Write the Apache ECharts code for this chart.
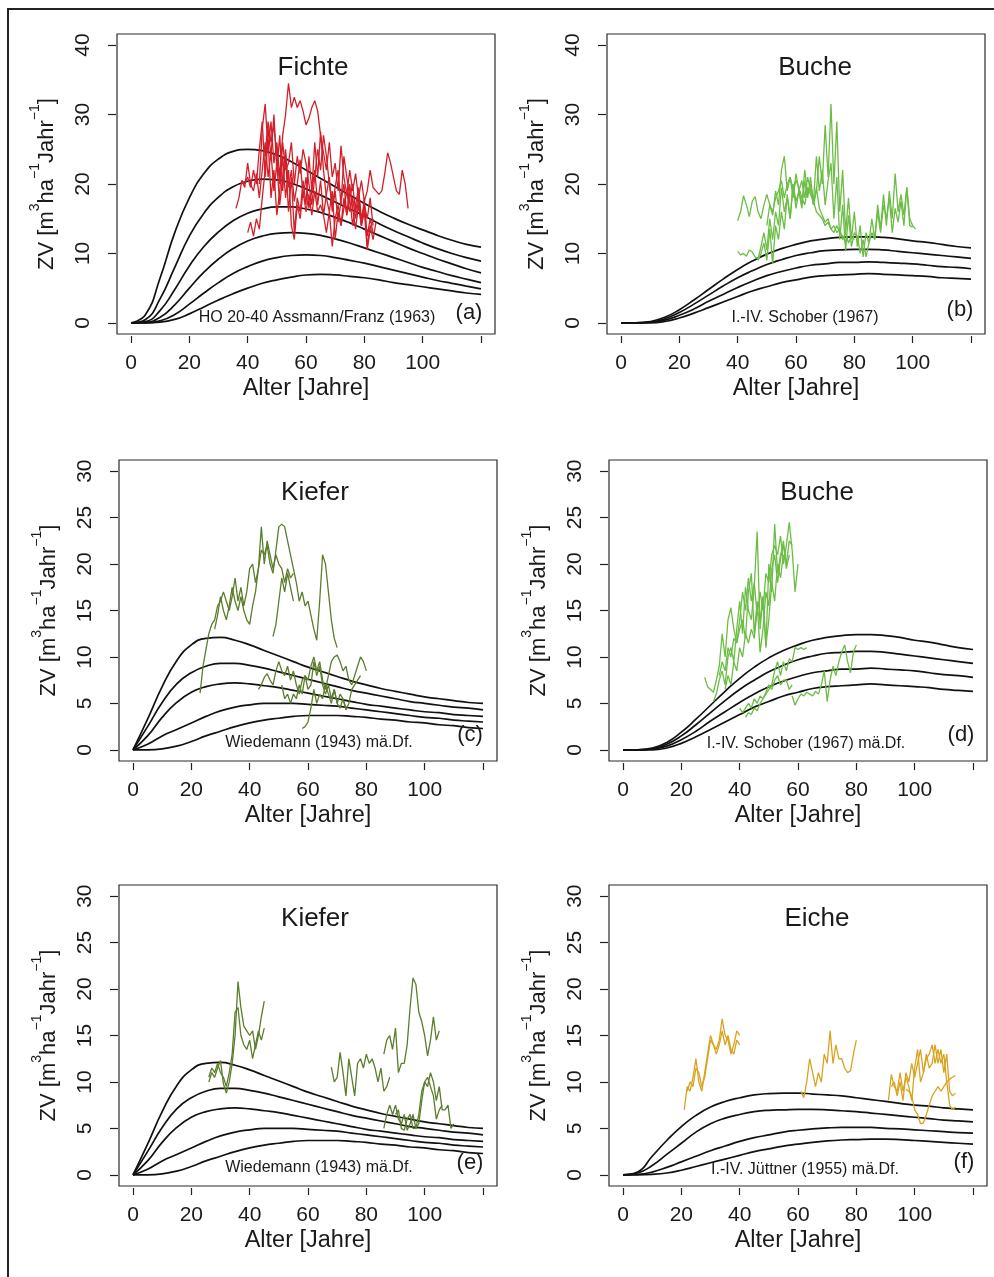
<!DOCTYPE html>
<html>
<head>
<meta charset="utf-8">
<script src="https://cdn.jsdelivr.net/npm/echarts@6/dist/echarts.min.js"></script>
<style>
html, body { margin: 0; padding: 0; background: #fff; }
#chart { width: 994px; height: 1277px; }
</style>
</head>
<body>
<div id="chart"></div>
<script>
// ages of the yield table curves
var ages = [0,5,10,15,20,25,30,35,40,45,50,55,60,65,70,75,80,85,90,95,100,105,110,115,120];
var xTicks = [0,20,40,60,80,100,120];
var xLabels = [0,20,40,60,80,100];
var yTicks40 = [0,10,20,30,40];
var yTicks30 = [0,5,10,15,20,25,30];

// Fichte, Assmann/Franz HO 20-40
var fiYt1 = [0,1.2,6.5,13,18,21.5,23.6,24.7,25,24.8,24.2,23.2,22,20.8,19.6,18.4,17.2,16.1,15.1,14.2,13.4,12.6,11.9,11.3,10.9];
var fiYt2 = [0,0.5,3.5,8,12.5,15.8,18.1,19.6,20.4,20.7,20.6,20.1,19.3,18.4,17.4,16.4,15.4,14.3,13.3,12.4,11.5,10.7,10,9.4,8.9];
var fiYt3 = [0,0.2,1.8,4.8,8.2,11,13.1,14.7,15.8,16.4,16.7,16.7,16.4,15.9,15.2,14.4,13.5,12.6,11.7,10.8,10,9.2,8.5,7.8,7.2];
var fiYt4 = [0,0.1,0.8,2.6,5,7.3,9.2,10.7,11.8,12.5,12.9,13,12.9,12.6,12.1,11.5,10.8,10.1,9.4,8.7,8,7.4,6.8,6.3,5.8];
var fiYt5 = [0,0,0.3,1.2,2.7,4.3,5.8,7.1,8.1,8.9,9.4,9.7,9.8,9.7,9.4,9,8.6,8.1,7.6,7.1,6.6,6.1,5.7,5.3,4.9];
var fiYt6 = [0,0,0.1,0.5,1.3,2.3,3.3,4.2,5,5.7,6.2,6.6,6.9,7,6.9,6.7,6.5,6.2,5.8,5.5,5.2,4.9,4.6,4.3,4.1];

// Buche, Schober I.-IV.
var buYt1 = [0,0,0.2,0.8,1.9,3.3,4.8,6.3,7.7,8.9,9.9,10.7,11.3,11.8,12.1,12.3,12.4,12.4,12.3,12.1,11.8,11.6,11.3,11,10.8];
var buYt2 = [0,0,0.1,0.6,1.5,2.7,4,5.3,6.5,7.5,8.4,9.1,9.7,10.1,10.4,10.5,10.6,10.6,10.5,10.3,10.1,9.9,9.7,9.5,9.3];
var buYt3 = [0,0,0.1,0.4,1.1,2,3.1,4.1,5.1,6,6.8,7.4,7.9,8.3,8.5,8.7,8.7,8.8,8.7,8.6,8.5,8.3,8.1,8,7.8];
var buYt4 = [0,0,0,0.2,0.7,1.4,2.2,3,3.8,4.6,5.2,5.8,6.2,6.6,6.8,6.9,7,7.1,7,6.9,6.8,6.7,6.5,6.4,6.3];

// Kiefer, Wiedemann
var kiYt1 = [0,3.3,6.8,9.6,11.3,12,12.1,11.8,11.3,10.7,10.1,9.5,8.9,8.4,7.9,7.4,7,6.6,6.3,6,5.7,5.5,5.3,5.1,5];
var kiYt2 = [0,2.5,5.1,7.1,8.3,9,9.3,9.3,9.1,8.8,8.4,8,7.6,7.2,6.8,6.4,6.1,5.8,5.5,5.2,5,4.8,4.6,4.5,4.3];
var kiYt3 = [0,1.5,3.5,5.1,6.2,6.8,7.1,7.2,7.1,6.9,6.7,6.4,6.1,5.8,5.5,5.2,4.9,4.7,4.5,4.3,4.1,4,3.8,3.7,3.6];
var kiYt4 = [0,0.6,1.5,2.2,2.9,3.6,4.2,4.6,4.85,5,5,5,4.9,4.8,4.7,4.5,4.3,4.1,3.9,3.7,3.5,3.4,3.2,3.1,3];
var kiYt5 = [0,0,0.1,0.4,0.9,1.5,2,2.5,2.9,3.2,3.4,3.6,3.7,3.7,3.7,3.6,3.5,3.3,3.2,3,2.9,2.7,2.6,2.4,2.3];

// Eiche, Juettner I.-IV.
var eiYt1 = [0,0.3,2,3.7,5.2,6.4,7.3,7.9,8.3,8.6,8.75,8.8,8.8,8.7,8.6,8.5,8.3,8.1,7.9,7.7,7.5,7.4,7.2,7.1,7];
var eiYt2 = [0,0.2,1,2.2,3.4,4.6,5.5,6.1,6.5,6.8,6.95,7,7.05,7.05,7,6.9,6.8,6.65,6.5,6.35,6.2,6.05,5.9,5.8,5.7];
var eiYt3 = [0,0.05,0.3,0.8,1.4,2,2.6,3.1,3.6,4,4.3,4.6,4.8,4.95,5.05,5.1,5.1,5.1,5,4.95,4.85,4.75,4.65,4.55,4.5];
var eiYt4 = [0,0,0.05,0.2,0.5,0.9,1.3,1.7,2.1,2.5,2.8,3.1,3.3,3.5,3.65,3.75,3.8,3.85,3.85,3.8,3.7,3.6,3.5,3.4,3.3];

// observed plots: first age and yearly values
var fiStarts = [36, 40, 44, 38, 46];
var fiObs1 = [16.5,18,20.5,19.5,23,20,19,21.5,18,22,26,21,24.5,19,23,17,21,25,19.5,22,17.5,20,23.5,18,21,16.5,19,22,17,20.5,15.5,18.5,21,16,19,14.5,17.5,20,15.5,18,14,17,19.5,15,17,12.5,15,13];
var fiObs2 = [13,14.5,12.5,15,13.5,18,22,28,24,30,22,27,19,24,16,21,13,18,16,20.5,17,24,19,26,21,27.5,22,18,16,19,12,16,14,18,15.5,20,16.5,13.5,17,14,18,11,14,12,14.5];
var fiObs3 = [20,28,31.5,25,29,23,26,21,27,30,34.5,31,32.5,31,32,30.5,28.5,29.5,31,32,30.5,27,24.5,22,26,21,23,19,25.5,21,18.5,22,19,21.5,18,20.5,17.5,19,22,19.5,19,18.5,19,21.5,24.5,23,21,19,18.5,22,20,16.5];
var fiObs4 = [20.5,20,21,19.5,22,20,25,29,21,26.5,18,22,15.5,19,24,18,22,14,12,17,15,19,16,18.5,15.5,19,16,17,15.5,13,16,11,15,17,14,16.5,19,16,18,15,17.5,14,16,10.5,13.5,15];
var fiObs5 = [24,29,26,28.5,24,20,26,22,23,26,20,24,21.5,25,23,20,17,21,25,22,27,24,20,17,19.5,22,17,24,21,18,20,16,18.5,14,17,15,18,14];

var buStarts = [40, 40, 47, 50];
var buObs1 = [14.7,16,18.3,17,15.3,17.5,18.2,16,15,17,18.5,17,16,18,19,20.5,18,20,21,19,20.5,19.5,18,17,19.5,18.5,17.5,16,15.5,15,14,14.5,13.5,13,14,13,12.5,11.5];
var buObs2 = [10.3,9.8,10,9.6,10.5,10.2,9.5,9.2,11,13,10.5,15,12,16,14,19.5,16,18,15,20,17.5,19,16.5,20.5,18,21,17,19,24,20,28.5,21,31.5,20,29,16,22,13,18,12,16,11,14,9.5,13,11.5,15,12,17,13.5,18.5,14,19,15,21.5,16,18.5,15.5,19.5,14,13.8];
var buObs3 = [9,10,11.5,9,13.5,8.5,14,12,16,13.5,18.5,15,20,16.5,19,17,22,18.5,20,17.5,24,19,22,17,20.5,23,15,21,12,17,10.5,15.5,11,13,12.5,10,12,9.5,11.5,13,12,16,13,17,15,18,13,16.5,14.5,17.5,14,19.5,15,14,13.5];
var buObs4 = [14,17,15.5,19,17,22,24,19,21,18,21.5,19,20.5,18,21,19,17,19.5,16.5,15.5,14.5,15,13.5,14,13,13.5,12,13,11.5,12.5,12];

var kiStarts = [23, 28, 48, 43, 51, 58];
var kiObs1 = [6.1,9,10.8,12.5,13.5,14,15.5,16,17,16,15,16.5,18.5,16,17.5,15.5,17,19.5,20,18,19.5,24,20,22.5,21,19.5,21,20,19.5,18,19.5,18.5,19];
var kiObs2 = [13,14.5,16.5,15,14,15.5,17.5,16,15,16.5,15,14,13.5,15.5,17,19.5,21.5,21,22,20,19,21.5,24,24.3,24,22.5,21,19.5,18,16,17,15.5,16,14.5,13,11.8,16,21,20,17,14,12,11];
var kiObs3 = [12.2,13.5,16,18.5,17,19,17.5,16];
var kiObs4 = [6.5,7,7.8,8.2,7.5,7,8.5,9.5,8.5,8,9,7.5,8.5,7,6,7.5,8,6.5,7,9.5,8,9,7,6,7,5.5,6.5,5,6,5.5,4.5];
var kiObs5 = [7,5.5,6,5,6,5.5,7,6,8,7.5,9,10,8.5,9.5,7.5,6.5,8,9.5,10,10.2,9.5,8.5,9,7.5,7,8,9,10,9.5,8.5];
var kiObs6 = [2.3,2.5,3,4.5,6.5,5,6,5.5,7,6,5,6.5,5,4.5,5.5,4.3,5,6.5,7,7.5,8];

var bdStarts = [28, 31, 33, 35, 42, 40, 58];
var bdObs1 = [7.8,6.8,6.5,6.2,7.5,9,12.5,10,14,15.3,13,11.5,14,17,15,18.5,16,18,14.5,17,15,19,18,21,22,21,23,20,22,24.5,21.5,17,20];
var bdObs2 = [5.2,6,7.5,8.5,7,10,11,9.5,13,16,12.5,17.5,15,14,17.5,23.5,13,16.5,11,20,17,24.3,19,21,22,20,22.5,22];
var bdObs3 = [8,9.5,8.5,11,10,12,11.5,13,14,12,17,19,12.5,16,10.5,13,17,15.5,19.5,21,18,20.5,22.5,19.5,21];
var bdObs4 = [6.5,8,7,9.5,8.5,11,10,12.5,11.5,13,12,15,14,16.5,11.2,14,18,16,20,18.5,21];
var bdObs5 = [3.5,4,3.8,4.5,4.2,5,5.5,6,6.5,7,8.5,9.5,8,9.5,8.5,9.8,9.5,11,10.8,11,10.8,11];
var bdObs6 = [4.5,4,4.5,5,4.5,5.5,5,5.8,5.5,6.2,7,6.5,7.5,8,7,7.5,7.5,6.5,7];
var bdObs7 = [5.8,4.8,5.5,6,5.8,6.2,6,5.8,6.3,6,7,8.5,5.2,7.5,9,8,9.5,10.5,11.3,9.5,8.3,10.5,11.3];

var keStarts = [26, 26, 68, 86, 86, 90];
var keObs1 = [10,11,10.5,11.5,12.3,9.8,8.8,10,12,15,20.8,18,16,15.5,15,15.5,13.5,15,17,18.7];
var keObs2 = [10.5,11.5,11,12,11,10.5,9.5,11,13,17.5,18,15,14,13.5,14.5,12.5,14,15.5,14.5,15.8];
var keObs3 = [11.6,10,10.5,13.2,11,8.5,12.5,10.5,8.5,12,12.5,11.5,13,12,12.5,11.5,10,11.5,9,9.5,10.5];
var keObs4 = [13,14.5,15,13.5,15.8,11,12,12,14,18,21.2,20.5,17.5,16.5,15,12.8,14.5,17,14.5,15.5];
var keObs5 = [5,6.5,7.5,6.5,7.5,6,5.5,6.5,4.8,5.5,6.5,5,5.5,8,10,9.5,11,10,8,9.5,7,7,7.5,5,5.5];
var keObs6 = [6.5,7,5,4.8,6,6.5,5,5,6.5,9,10,10.5,9.5,8.5,6,7,7.5];

var eiStarts = [21, 22, 61, 91, 92, 97];
var eiObs1 = [7,9.5,9,10.5,12.5,10,9,11,13,15,14,13.5,14.5,16.8,15,14.5,13,14,15.5,15];
var eiObs2 = [9,10,9.5,11.5,11,9.5,10.5,12.5,14.5,14,13,14,15.5,14,15,13.5,13,14.5,14];
var eiObs3 = [9,8.3,10,12.5,11,9.5,11,10,13,12,15.5,12,14,12.5,12.5,11.5,11,11.2,13,14.5];
var eiObs4 = [8,10.8,9.5,9,11,9,10.5,9.5,8,11.5,13.5,10,11,13,11.5,12,14,12,13.5,11,13,9,8.5,8.8];
var eiObs5 = [9.5,10,8.5,10,8,11,10,12,10.5,12,13.5,11,12.5,13,14,12,13.5,12,13,10,7.5,7,7.3];
var eiObs6 = [9.2,9,8.5,7,6.5,5.5,5.6,6.5,7.5,8.5,9,9.5,9,9.5,10,10.3,10.5,10.7];

var FONT = '"Liberation Sans", Arial, sans-serif';
var TXT = '#1a1a1a';

var panels = [
	{box: [117, 34, 378, 300], yr: [-1.6, 41.6], yt: yTicks40, curves: [fiYt1, fiYt2, fiYt3, fiYt4, fiYt5, fiYt6],
		obs: [fiObs1, fiObs2, fiObs3, fiObs4, fiObs5], starts: fiStarts, color: '#d31f29'},
	{box: [607, 34, 378, 300], yr: [-1.6, 41.6], yt: yTicks40, curves: [buYt1, buYt2, buYt3, buYt4],
		obs: [buObs1, buObs2, buObs3, buObs4], starts: buStarts, color: '#6cbd45'},
	{box: [119, 460, 378, 301], yr: [-1.2, 31.2], yt: yTicks30, curves: [kiYt1, kiYt2, kiYt3, kiYt4, kiYt5],
		obs: [kiObs1, kiObs2, kiObs3, kiObs4, kiObs5, kiObs6], starts: kiStarts, color: '#5b7d2c'},
	{box: [609, 460, 378, 301], yr: [-1.2, 31.2], yt: yTicks30, curves: [buYt1, buYt2, buYt3, buYt4],
		obs: [bdObs1, bdObs2, bdObs3, bdObs4, bdObs5, bdObs6, bdObs7], starts: bdStarts, color: '#6cbd45'},
	{box: [119, 885, 378, 301], yr: [-1.2, 31.2], yt: yTicks30, curves: [kiYt1, kiYt2, kiYt3, kiYt4, kiYt5],
		obs: [keObs1, keObs2, keObs3, keObs4, keObs5, keObs6], starts: keStarts, color: '#5b7d2c'},
	{box: [609, 885, 378, 301], yr: [-1.2, 31.2], yt: yTicks30, curves: [eiYt1, eiYt2, eiYt3, eiYt4],
		obs: [eiObs1, eiObs2, eiObs3, eiObs4, eiObs5, eiObs6], starts: eiStarts, color: '#d9a320'}
];

// texts: [text, x, y]
var titles = [['Fichte', 313, 68], ['Buche', 815, 68], ['Kiefer', 315, 493], ['Buche', 817, 493], ['Kiefer', 315, 919], ['Eiche', 817, 919]];
var sources = [['HO 20-40 Assmann/Franz (1963)', 317, 318], ['I.-IV. Schober (1967)', 805, 318], ['Wiedemann (1943) mä.Df.', 319, 743],
	['I.-IV. Schober (1967) mä.Df.', 806, 744], ['Wiedemann (1943) mä.Df.', 319, 1168], ['I.-IV. Jüttner (1955) mä.Df.', 805, 1170]];
var tags = [['(a)', 469, 313], ['(b)', 960, 310], ['(c)', 470, 735], ['(d)', 961, 735], ['(e)', 470, 1163], ['(f)', 964, 1162]];

function curvePairs(vals){
	return vals.map(function(v, k){ return [ages[k], v]; });
}
function obsPairs(start, vals){
	return vals.map(function(v, k){ return [start + k, v]; });
}

var grids = [], xAxes = [], yAxes = [], series = [], graphics = [];

panels.forEach(function(p, i){
	grids.push({left: p.box[0], top: p.box[1], width: p.box[2], height: p.box[3],
		show: true, borderColor: '#2a2a2a', borderWidth: 1.2, backgroundColor: 'transparent'});
	xAxes.push({
		gridIndex: i, type: 'value', min: -4.8, max: 124.8, offset: 2,
		axisLine: {show: false, onZero: false},
		axisTick: {show: true, length: 7, customValues: xTicks, lineStyle: {color: '#222', width: 1.2}},
		axisLabel: {customValues: xLabels, fontSize: 21, color: TXT, fontFamily: FONT, margin: 17},
		splitLine: {show: false},
		name: 'Alter [Jahre]', nameLocation: 'middle', nameGap: 41,
		nameTextStyle: {fontSize: 23.5, color: TXT, fontFamily: FONT}
	});
	yAxes.push({
		gridIndex: i, type: 'value', min: p.yr[0], max: p.yr[1], offset: 1,
		axisLine: {show: false, onZero: false},
		axisTick: {show: true, length: 8, customValues: p.yt, lineStyle: {color: '#222', width: 1.2}},
		axisLabel: {customValues: p.yt, fontSize: 21, color: TXT, fontFamily: FONT, rotate: 90, margin: 22},
		splitLine: {show: false},
		name: '{a|ZV [m}{s|3}{a|ha}{s|\u22121}{a|Jahr}{s|\u22121}{a|]}',
		nameLocation: 'middle', nameGap: 58, nameRotate: 90,
		nameTextStyle: {
			color: TXT, fontFamily: FONT,
			rich: {
				a: {fontSize: 22, fontFamily: FONT, color: TXT, lineHeight: 30, verticalAlign: 'bottom'},
				s: {fontSize: 14, fontFamily: FONT, color: TXT, lineHeight: 30, verticalAlign: 'top'}
			}
		}
	});
	p.curves.forEach(function(c){
		series.push({type: 'line', xAxisIndex: i, yAxisIndex: i, data: curvePairs(c),
			smooth: 0.5, showSymbol: false, symbol: 'none',
			lineStyle: {color: '#111', width: 1.7}, z: 2});
	});
	p.obs.forEach(function(o, k){
		series.push({type: 'line', xAxisIndex: i, yAxisIndex: i, data: obsPairs(p.starts[k], o),
			showSymbol: false, symbol: 'none',
			lineStyle: {color: p.color, width: 1.3}, z: 3});
	});
});

function addText(list, size){
	list.forEach(function(t){
		graphics.push({type: 'text', x: t[1], y: t[2], z: 10,
			style: {text: t[0], fill: TXT, font: size + 'px ' + FONT, align: 'center', verticalAlign: 'middle'}});
	});
}
addText(titles, 26);
addText(sources, 16);
addText(tags, 22);

// outer frame of the figure
graphics.push({type: 'rect', z: 10, shape: {x: 8, y: 9, width: 1100, height: 1400},
	style: {fill: 'none', stroke: '#222', lineWidth: 2}});

var chart = echarts.init(document.getElementById('chart'), null, {renderer: 'canvas'});
chart.setOption({
	animation: false,
	backgroundColor: '#fff',
	grid: grids,
	xAxis: xAxes,
	yAxis: yAxes,
	series: series,
	graphic: graphics
});
</script>
</body>
</html>
